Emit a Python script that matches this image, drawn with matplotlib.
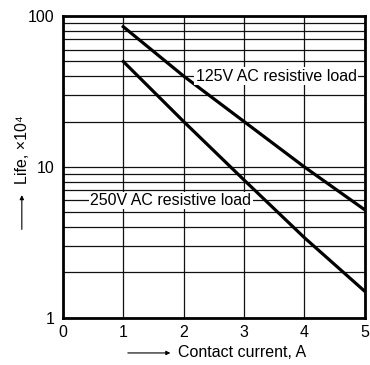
import matplotlib
matplotlib.use('Agg')
import matplotlib.pyplot as plt

plt.rcParams['font.family'] = ['Liberation Sans', 'DejaVu Sans']

# contact current (A) vs life (x10^4 operations)
current = [1, 2, 3, 4, 5]
life_125v = [85, 40, 20, 10, 5.2]
life_250v = [50, 20, 8.2, 3.4, 1.5]

label_125v = '125V AC resistive load'
label_250v = '250V AC resistive load'

fs = 11.5

fig = plt.figure(figsize=(3.7, 3.65), dpi=100)
ax = fig.add_axes([0.170, 0.129, 0.816, 0.827])

ax.set_yscale('log')
ax.set_xlim(0, 5)
ax.set_ylim(1, 100)

ax.set_xticks([0, 1, 2, 3, 4, 5])
ax.set_yticks([1, 10, 100])
ax.set_yticklabels(['1', '10', '100'])
ax.yaxis.set_minor_formatter(matplotlib.ticker.NullFormatter())
ax.tick_params(which='both', length=0, labelsize=fs)
ax.tick_params(axis='y', pad=6)
ax.tick_params(axis='x', pad=5)

ax.grid(True, which='both', axis='y', color='#111111', lw=0.9)
ax.grid(True, which='major', axis='x', color='#111111', lw=0.9)
for s in ax.spines.values():
    s.set_linewidth(2)

ax.plot(current, life_125v, color='black', lw=2.3, zorder=3)
ax.plot(current, life_250v, color='black', lw=2.3, zorder=3)

box = dict(facecolor='white', edgecolor='none', pad=1.0)
ax.text(3.53, 40, label_125v, fontsize=fs, ha='center', va='center', bbox=box, zorder=4)
ax.text(1.79, 6, label_250v, fontsize=fs, ha='center', va='center', bbox=box, zorder=4)

# axis titles with leading arrows
fig.text(0.062, 0.497, 'Life, ×10⁴', rotation=90, fontsize=fs, ha='center', va='bottom')
fig.add_artist(matplotlib.patches.FancyArrowPatch((0.059, 0.364), (0.059, 0.473),
               transform=fig.transFigure, arrowstyle='-|>', mutation_scale=6, lw=0.8, color='black'))
fig.text(0.481, 0.033, 'Contact current, A', fontsize=fs, ha='left', va='center')
fig.add_artist(matplotlib.patches.FancyArrowPatch((0.338, 0.033), (0.468, 0.033),
               transform=fig.transFigure, arrowstyle='-|>', mutation_scale=6, lw=0.8, color='black'))

fig.savefig('out.png', dpi=100)
